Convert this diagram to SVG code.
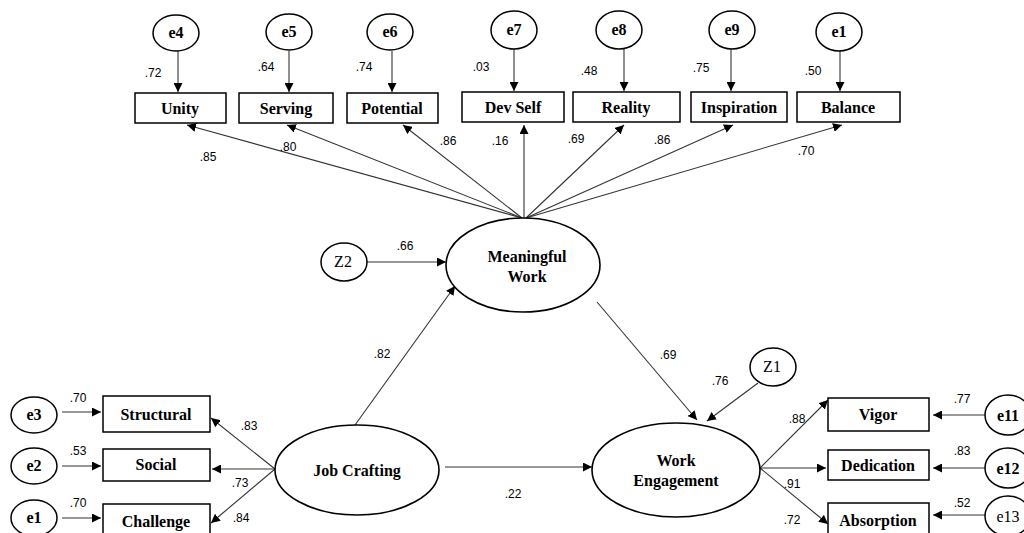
<svg xmlns="http://www.w3.org/2000/svg" width="1024" height="533" viewBox="0 0 1024 533">
<defs>
<marker id="ah" viewBox="0 0 10 10" refX="10" refY="5" markerWidth="9" markerHeight="9" markerUnits="userSpaceOnUse" orient="auto"><path d="M0,0 L10,5 L0,10 z" fill="#000"/></marker>
</defs>
<style>
.lat{fill:#fff;stroke:#000;stroke-width:1.6}
.box{fill:#fff;stroke:#000;stroke-width:1.5}
.err{fill:#fff;stroke:#000;stroke-width:1.5}
.t{font-family:"Liberation Serif",serif;font-weight:bold;font-size:16px;text-anchor:middle;fill:#000}
.tn{font-family:"Liberation Serif",serif;font-size:16px;text-anchor:middle;fill:#000}
.n{font-family:"Liberation Sans",Arial,sans-serif;font-size:12px;text-anchor:middle;fill:#000}
.c line{stroke:#333;stroke-width:1.1;marker-end:url(#ah)}
</style>
<rect width="1024" height="533" fill="#fff"/>

<g class="c" id="connectors">
<line x1="178" y1="51" x2="178" y2="92"/>
<line x1="289" y1="51" x2="289" y2="92"/>
<line x1="392" y1="51" x2="392" y2="92"/>
<line x1="514" y1="49" x2="514" y2="91"/>
<line x1="624" y1="49" x2="624" y2="91"/>
<line x1="731" y1="49" x2="731" y2="91"/>
<line x1="840" y1="49" x2="840" y2="91"/>
<line x1="522" y1="218" x2="187" y2="125"/>
<line x1="522" y1="218" x2="287" y2="125"/>
<line x1="522" y1="218" x2="403" y2="125"/>
<line x1="524" y1="218" x2="524" y2="125"/>
<line x1="526" y1="218" x2="624" y2="125"/>
<line x1="526" y1="218" x2="733" y2="125"/>
<line x1="526" y1="218" x2="842" y2="125"/>
<line x1="367" y1="262" x2="446" y2="262"/>
<line x1="355" y1="425" x2="455" y2="286"/>
<line x1="597" y1="302" x2="697" y2="420"/>
<line x1="758" y1="383" x2="707" y2="421"/>
<line x1="445" y1="467" x2="592" y2="467"/>
<line x1="62" y1="412" x2="101" y2="412"/>
<line x1="62" y1="466" x2="101" y2="466"/>
<line x1="62" y1="518" x2="101" y2="518"/>
<line x1="275" y1="469" x2="211" y2="418"/>
<line x1="275" y1="469" x2="212" y2="469"/>
<line x1="275" y1="469" x2="211" y2="523"/>
<line x1="760" y1="468" x2="828" y2="400"/>
<line x1="760" y1="468" x2="826" y2="468"/>
<line x1="760" y1="468" x2="828" y2="524"/>
<line x1="985" y1="415" x2="933" y2="415"/>
<line x1="985" y1="468" x2="933" y2="468"/>
<line x1="985" y1="515" x2="933" y2="515"/>
</g>

<g id="labels">
<text class="n" x="153" y="77">.72</text>
<text class="n" x="266" y="71">.64</text>
<text class="n" x="364" y="71">.74</text>
<text class="n" x="481" y="71">.03</text>
<text class="n" x="589" y="75">.48</text>
<text class="n" x="701" y="72">.75</text>
<text class="n" x="813" y="75">.50</text>
<text class="n" x="208" y="161">.85</text>
<text class="n" x="288" y="151">.80</text>
<text class="n" x="448" y="145">.86</text>
<text class="n" x="500" y="145">.16</text>
<text class="n" x="576" y="143">.69</text>
<text class="n" x="662" y="144">.86</text>
<text class="n" x="806" y="155">.70</text>
<text class="n" x="405" y="250">.66</text>
<text class="n" x="382" y="358">.82</text>
<text class="n" x="668" y="359">.69</text>
<text class="n" x="720" y="385">.76</text>
<text class="n" x="513" y="498">.22</text>
<text class="n" x="78" y="402">.70</text>
<text class="n" x="78" y="455">.53</text>
<text class="n" x="78" y="507">.70</text>
<text class="n" x="249" y="430">.83</text>
<text class="n" x="240" y="487">.73</text>
<text class="n" x="241" y="522">.84</text>
<text class="n" x="797" y="423">.88</text>
<text class="n" x="792" y="488">.91</text>
<text class="n" x="792" y="524">.72</text>
<text class="n" x="962" y="403">.77</text>
<text class="n" x="962" y="455">.83</text>
<text class="n" x="962" y="507">.52</text>
</g>

<g id="e4"><ellipse class="err" cx="176" cy="33" rx="23" ry="18"/><text class="t" x="176" y="38">e4</text></g>
<g id="e5"><ellipse class="err" cx="289" cy="32" rx="23" ry="18"/><text class="t" x="289" y="37">e5</text></g>
<g id="e6"><ellipse class="err" cx="390" cy="32" rx="23" ry="18"/><text class="t" x="390" y="37">e6</text></g>
<g id="e7"><ellipse class="err" cx="514" cy="30" rx="23" ry="19"/><text class="t" x="514" y="35">e7</text></g>
<g id="e8"><ellipse class="err" cx="619" cy="30" rx="23" ry="19"/><text class="t" x="619" y="35">e8</text></g>
<g id="e9"><ellipse class="err" cx="732" cy="30" rx="23" ry="19"/><text class="t" x="732" y="35">e9</text></g>
<g id="e1top"><ellipse class="err" cx="839" cy="32" rx="23" ry="19"/><text class="t" x="839" y="37">e1</text></g>

<g id="unity"><rect class="box" x="135" y="93" width="91" height="30"/><text class="t" x="180" y="114">Unity</text></g>
<g id="serving"><rect class="box" x="239" y="93" width="94" height="30"/><text class="t" x="286" y="114">Serving</text></g>
<g id="potential"><rect class="box" x="347" y="93" width="91" height="30"/><text class="t" x="392" y="114">Potential</text></g>
<g id="devself"><rect class="box" x="462" y="92" width="102" height="30"/><text class="t" x="513" y="113">Dev Self</text></g>
<g id="reality"><rect class="box" x="573" y="92" width="107" height="30"/><text class="t" x="626" y="113">Reality</text></g>
<g id="inspiration"><rect class="box" x="691" y="92" width="96" height="30"/><text class="t" x="739" y="113">Inspiration</text></g>
<g id="balance"><rect class="box" x="797" y="92" width="103" height="30"/><text class="t" x="848" y="113">Balance</text></g>

<g id="meaningful"><ellipse class="lat" cx="523" cy="265" rx="77" ry="47"/><text class="t" x="527" y="262">Meaningful</text><text class="t" x="527" y="282">Work</text></g>
<g id="z2"><ellipse class="err" cx="344" cy="262" rx="23" ry="19"/><text class="tn" x="343" y="267">Z2</text></g>
<g id="z1"><ellipse class="err" cx="773" cy="367" rx="23" ry="19"/><text class="tn" x="772" y="372">Z1</text></g>

<g id="jobcrafting"><ellipse class="lat" cx="357" cy="470" rx="82" ry="45"/><text class="t" x="357" y="476">Job Crafting</text></g>
<g id="workengagement"><ellipse class="lat" cx="676" cy="470" rx="84" ry="47"/><text class="t" x="676" y="466">Work</text><text class="t" x="676" y="486">Engagement</text></g>

<g id="e3"><ellipse class="err" cx="34" cy="415" rx="23" ry="18"/><text class="t" x="34" y="420">e3</text></g>
<g id="e2"><ellipse class="err" cx="34" cy="466" rx="23" ry="18"/><text class="t" x="34" y="471">e2</text></g>
<g id="e1"><ellipse class="err" cx="34" cy="518" rx="23" ry="18"/><text class="t" x="34" y="523">e1</text></g>
<g id="structural"><rect class="box" x="103" y="396" width="107" height="36"/><text class="t" x="156" y="420">Structural</text></g>
<g id="social"><rect class="box" x="103" y="449" width="107" height="32"/><text class="t" x="156" y="470">Social</text></g>
<g id="challenge"><rect class="box" x="103" y="504" width="107" height="36"/><text class="t" x="156" y="527">Challenge</text></g>

<g id="vigor"><rect class="box" x="828" y="398" width="101" height="33"/><text class="t" x="878" y="420">Vigor</text></g>
<g id="dedication"><rect class="box" x="828" y="450" width="101" height="30"/><text class="t" x="878" y="471">Dedication</text></g>
<g id="absorption"><rect class="box" x="828" y="503" width="101" height="36"/><text class="t" x="878" y="526">Absorption</text></g>
<g id="e11"><ellipse class="err" cx="1008" cy="415" rx="23" ry="20"/><text class="t" x="1008" y="421">e11</text></g>
<g id="e12"><ellipse class="err" cx="1008" cy="468" rx="23" ry="20"/><text class="t" x="1008" y="474">e12</text></g>
<g id="e13"><ellipse class="err" cx="1008" cy="516" rx="23" ry="20"/><text class="tn" x="1008" y="522">e13</text></g>
</svg>
